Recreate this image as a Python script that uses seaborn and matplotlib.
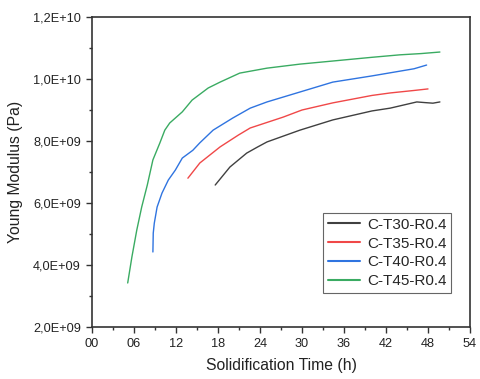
import matplotlib
matplotlib.use("Agg")
import matplotlib.pyplot as plt
import matplotlib.ticker as mticker
import seaborn as sns
import pandas as pd

# ---- data (modulus in units of 1e9 Pa) ----
t30 = [17.6, 19.7, 22.1, 23.6, 25.0, 29.7, 34.4, 40.0, 42.6, 46.4, 47.5, 48.7, 49.7]
e30 = [6.58, 7.16, 7.61, 7.80, 7.97, 8.35, 8.68, 8.97, 9.06, 9.26, 9.24, 9.22, 9.26]

t35 = [13.7, 15.4, 18.3, 20.9, 22.6, 27.3, 30.0, 34.4, 40.0, 42.6, 46.0, 48.0]
e35 = [6.80, 7.29, 7.81, 8.19, 8.42, 8.77, 9.00, 9.23, 9.47, 9.55, 9.63, 9.68]

t40 = [8.7, 8.75, 8.9, 9.3, 10.0, 10.9, 11.9, 12.9, 14.4, 15.4, 17.3, 20.1, 22.6, 25.0, 29.7, 34.4, 40.0, 42.6, 46.0, 47.8]
e40 = [4.42, 5.03, 5.35, 5.87, 6.32, 6.74, 7.06, 7.45, 7.70, 7.94, 8.35, 8.74, 9.06, 9.26, 9.58, 9.90, 10.10, 10.20, 10.33, 10.45]

t45 = [5.1, 5.7, 6.4, 7.1, 7.9, 8.7, 9.7, 10.4, 11.1, 12.9, 14.3, 16.6, 18.3, 21.1, 25.0, 29.7, 34.4, 40.0, 44.0, 47.0, 49.7]
e45 = [3.42, 4.26, 5.13, 5.87, 6.58, 7.39, 7.94, 8.35, 8.58, 8.94, 9.32, 9.71, 9.90, 10.19, 10.35, 10.48, 10.58, 10.70, 10.78, 10.82, 10.87]

labels = ["C-T30-R0.4", "C-T35-R0.4", "C-T40-R0.4", "C-T45-R0.4"]
colors = ["#404040", "#f04848", "#2f74e0", "#3aab62"]

frames = []
for lab, t, e in zip(labels, [t30, t35, t40, t45], [e30, e35, e40, e45]):
    frames.append(pd.DataFrame({"time": t, "E": [v * 1e9 for v in e], "series": lab}))
df = pd.concat(frames, ignore_index=True)

sns.set_style("white")
plt.rcParams["font.family"] = ["Liberation Sans", "DejaVu Sans"]

fig = plt.figure(figsize=(4.8, 3.79), dpi=100)
ax = fig.add_axes([92/480, 1-327/379, 378/480, 310/379])

sns.lineplot(data=df, x="time", y="E", hue="series", palette=colors,
             hue_order=labels, estimator=None, sort=False, linewidth=1.0, ax=ax)

ax.set_xlim(0, 54)
ax.set_ylim(2e9, 1.2e10)
ax.xaxis.set_major_locator(mticker.MultipleLocator(6))
ax.xaxis.set_minor_locator(mticker.MultipleLocator(3))
ax.yaxis.set_major_locator(mticker.MultipleLocator(2e9))
ax.yaxis.set_minor_locator(mticker.MultipleLocator(1e9))
ax.xaxis.set_major_formatter(mticker.FuncFormatter(lambda v, p: f"{int(round(v)):02d}"))
ax.yaxis.set_major_formatter(mticker.FuncFormatter(lambda v, p: f"{v:.1E}".replace(".", ",")))
ax.yaxis.get_offset_text().set_visible(False)

ax.tick_params(which="both", direction="out", top=False, right=False, bottom=True, left=True,
               colors="#333333", labelcolor="#222222", labelsize=9.2)
ax.tick_params(which="major", length=4.5, width=1)
ax.tick_params(which="minor", length=2.5, width=1)
for s in ax.spines.values():
    s.set_color("#333333")
    s.set_linewidth(1.2)

ax.set_xlabel("Solidification Time (h)", fontsize=11.3, color="#222222", labelpad=6)
ax.set_ylabel("Young Modulus (Pa)", fontsize=11.3, color="#222222", labelpad=7)

leg = ax.legend(loc="lower right", bbox_to_anchor=(0.95, 0.11), fontsize=11,
                frameon=True, fancybox=False, edgecolor="#666666", framealpha=1,
                handlelength=2.1, labelspacing=0.32, borderpad=0.3, handletextpad=0.45,
                borderaxespad=0)
leg.get_frame().set_linewidth(0.8)
for line in leg.get_lines():
    line.set_linewidth(1.5)

fig.savefig("out.png", dpi=100)
